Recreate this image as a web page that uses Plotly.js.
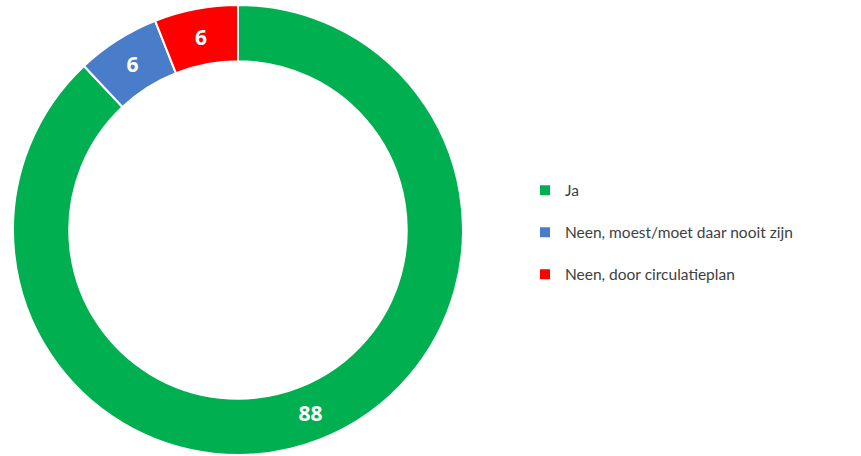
<!DOCTYPE html>
<html>
<head>
<meta charset="utf-8">
<script src="https://cdn.plot.ly/plotly-3.0.1.min.js"></script>
<style>html,body{margin:0;padding:0;background:#fff;}#chart{width:861px;height:456px;}</style>
</head>
<body>
<div id="chart"></div>
<script>
const categories = ["Ja", "Neen, moest/moet daar nooit zijn", "Neen, door circulatieplan"];
const values = [88, 6, 6];
const colors = ["#00B050", "#4A7DC9", "#FF0000"];

const W = 861, H = 456;
const cx = 238, cy = 230, r = 225;

const trace = {
  type: "pie",
  labels: categories.map(c => '<span style="font-size:15.5px">' + c + '</span><br> '),
  values: values,
  text: values.map(String),
  textinfo: "text",
  textposition: "inside",
  insidetextorientation: "horizontal",
  insidetextfont: {family: "Open Sans, sans-serif", size: 21, color: "#FFFFFF", weight: "bold"},
  hole: 0.75,
  sort: false,
  direction: "clockwise",
  rotation: 0,
  marker: {colors: colors, line: {color: "#FFFFFF", width: 2}},
  domain: {x: [(cx - r) / W, (cx + r) / W], y: [(H - cy - r) / H, (H - cy + r) / H]},
  hoverinfo: "value"
};

const layout = {
  width: W, height: H,
  margin: {l: 0, r: 0, t: 0, b: 0},
  paper_bgcolor: "#FFFFFF",
  showlegend: true,
  legend: {
    x: 525 / W, xanchor: "left",
    y: 0.5 - 14 / H, yanchor: "middle",
    valign: "top",
    font: {family: "Lato, sans-serif", size: 15, color: "#404040"},
    bgcolor: "rgba(0,0,0,0)"
  }
};

Plotly.newPlot("chart", [trace], layout, {staticPlot: true});
</script>
</body>
</html>
